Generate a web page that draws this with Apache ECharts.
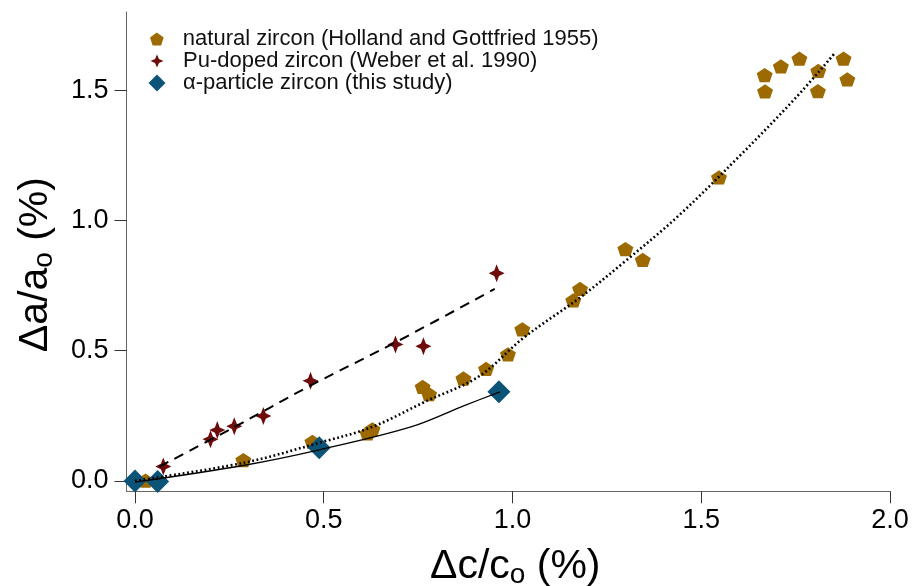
<!DOCTYPE html>
<html>
<head>
<meta charset="utf-8">
<script src="https://cdn.jsdelivr.net/npm/echarts@6/dist/echarts.min.js"></script>
<style>
  html, body { margin: 0; padding: 0; background: #ffffff; }
  #chart { width: 913px; height: 586px; }
</style>
</head>
<body>
<div id="chart"></div>
<script>
// ---- data ----
const seriesNames = [
  'natural zircon (Holland and Gottfried 1955)',
  'Pu-doped zircon (Weber et al. 1990)',
  '\u03b1-particle zircon (this study)'
];

// [Δc/c0 (%), Δa/a0 (%)]
const naturalZircon = [
  [0.028, 0.001], [0.287, 0.080], [0.470, 0.150], [0.616, 0.182], [0.629, 0.198],
  [0.762, 0.361], [0.779, 0.333], [0.870, 0.393], [0.930, 0.430], [0.988, 0.486],
  [1.026, 0.582], [1.161, 0.693], [1.179, 0.737], [1.299, 0.890], [1.345, 0.848],
  [1.547, 1.165], [1.668, 1.558], [1.669, 1.495], [1.711, 1.591], [1.760, 1.621],
  [1.810, 1.574], [1.809, 1.496], [1.877, 1.621], [1.887, 1.541]
];

const puDopedZircon = [
  [0.075, 0.055], [0.200, 0.160], [0.218, 0.195], [0.263, 0.210], [0.340, 0.249],
  [0.465, 0.384], [0.690, 0.524], [0.764, 0.517], [0.958, 0.797]
];

const alphaZircon = [
  [0.000, 0.000], [0.060, -0.002], [0.488, 0.127], [0.964, 0.342]
];

// fit curves, points
const naturalFit = [
  [0.00, 0.000], [0.29, 0.070], [0.49, 0.147], [0.63, 0.208], [0.77, 0.305],
  [0.91, 0.400], [1.03, 0.550], [1.18, 0.705], [1.30, 0.845], [1.44, 1.018],
  [1.60, 1.245], [1.75, 1.470], [1.852, 1.639]
];
const puFit = [
  [0.065, 0.055], [0.265, 0.208], [0.465, 0.366], [0.693, 0.534], [0.953, 0.737]
];
const alphaFit = [
  [0.00, -0.005], [0.29, 0.060], [0.488, 0.119], [0.733, 0.208], [0.874, 0.290], [0.967, 0.342]
];

const xTicks = [0, 0.5, 1.0, 1.5, 2.0];
const yTicks = [0, 0.5, 1.0, 1.5];

// ---- styles ----
const FONT = 'Liberation Sans, Arial, Helvetica, sans-serif';
const cNatural = '#9c6a00';
const cPu = '#6e0b0b';
const cAlpha = '#0b5477';
const pentagon = 'path://M0,-100L95.1,-30.9L58.8,80.9L-58.8,80.9L-95.1,-30.9Z';
const star4 = 'path://M0,-100L30,-30L100,0L30,30L0,100L-30,30L-100,0L-30,-30Z';
const diamond = 'path://M0,-100L100,0L0,100L-100,0Z';

function legendAt(name, icon, color, top, w, h) {
  const symCenter = 157, textStart = 183;
  const left = symCenter - 5 - w / 2;
  const pad = textStart - (left + 5 + w + 5);
  return {
    orient: 'vertical', left: left, top: top,
    itemWidth: w, itemHeight: h, itemGap: 0,
    selectedMode: false,
    itemStyle: { color: color, opacity: 1 },
    textStyle: { fontFamily: FONT, fontSize: 22, color: '#111', padding: [0, 0, 0, pad] },
    data: [{ name: name, icon: icon }]
  };
}

const nameRich = {
  m: { fontFamily: FONT, fontSize: 41, color: '#000' },
  s: { fontFamily: FONT, fontSize: 28, color: '#000', verticalAlign: 'bottom', padding: [18, 0, 0, 0] }
};

const chart = echarts.init(document.getElementById('chart'), null, { renderer: 'canvas' });
chart.setOption({
  animation: false,
  backgroundColor: '#ffffff',
  grid: { left: 126.5, right: 23, top: 12, bottom: 94.7, containLabel: false, outerBoundsMode: 'none' },
  legend: [
    legendAt(seriesNames[0], pentagon, cNatural, 23, 14, 13),
    legendAt(seriesNames[1], star4, cPu, 45, 13, 14),
    legendAt(seriesNames[2], diamond, cAlpha, 67, 17, 17)
  ],
  xAxis: {
    type: 'value', min: -0.0225, max: 2.0,
    splitLine: { show: false },
    axisLine: { show: true, onZero: false, lineStyle: { color: '#666', width: 1 } },
    axisTick: { show: true, customValues: xTicks, length: 12, inside: false, lineStyle: { color: '#333', width: 1 } },
    axisLabel: { customValues: xTicks, margin: 16, fontFamily: FONT, fontSize: 27, color: '#000',
                 formatter: v => v.toFixed(1) },
    name: '{m|\u0394c/c}{s|o}{m| (%)}',
    nameLocation: 'middle', nameGap: 52,
    nameTextStyle: { padding: [0, 0, 0, 14], rich: nameRich }
  },
  yAxis: {
    type: 'value', min: -0.04, max: 1.8,
    splitLine: { show: false },
    axisLine: { show: true, onZero: false, lineStyle: { color: '#666', width: 1 } },
    axisTick: { show: true, customValues: yTicks, length: 12, inside: false, lineStyle: { color: '#333', width: 1 } },
    axisLabel: { customValues: yTicks, margin: 18, fontFamily: FONT, fontSize: 27, color: '#000',
                 formatter: v => v.toFixed(1) },
    name: '{m|\u0394a/a}{s|o}{m| (%)}',
    nameLocation: 'middle', nameGap: 68, nameRotate: 90,
    nameTextStyle: { padding: [0, 26, 0, 0], rich: nameRich }
  },
  series: [
    {
      name: seriesNames[0], type: 'scatter', data: naturalZircon,
      symbol: pentagon, symbolSize: [16, 15], symbolKeepAspect: true,
      itemStyle: { color: cNatural, opacity: 1 }, z: 2
    },
    {
      name: seriesNames[1], type: 'scatter', data: puDopedZircon,
      symbol: star4, symbolSize: [16, 18],
      itemStyle: { color: cPu, opacity: 1 }, z: 3
    },
    {
      name: seriesNames[2], type: 'scatter', data: alphaZircon,
      symbol: diamond, symbolSize: [23, 23],
      itemStyle: { color: cAlpha, opacity: 1 }, z: 4
    },
    {
      name: 'natural fit', type: 'line', data: naturalFit, smooth: 0.35,
      showSymbol: false, silent: true, z: 6,
      lineStyle: { color: '#000', width: 2.6, type: [1.8, 2.6] }
    },
    {
      name: 'Pu fit', type: 'line', data: puFit, smooth: 0.35,
      showSymbol: false, silent: true, z: 6,
      lineStyle: { color: '#000', width: 2, type: [10, 7] }
    },
    {
      name: 'alpha fit', type: 'line', data: alphaFit, smooth: 0.35,
      showSymbol: false, silent: true, z: 6,
      lineStyle: { color: '#000', width: 1.3, type: 'solid' }
    }
  ]
});
</script>
</body>
</html>
